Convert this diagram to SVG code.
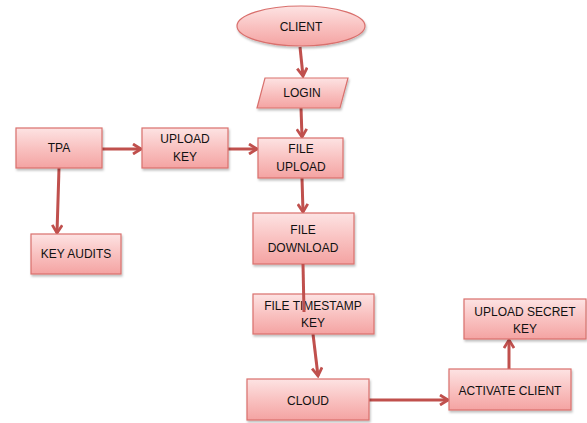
<svg xmlns="http://www.w3.org/2000/svg" width="587" height="423" viewBox="0 0 587 423">
<defs>
<linearGradient id="g" x1="0" y1="0" x2="0" y2="1">
<stop offset="0" stop-color="#fde3e3"/>
<stop offset="0.5" stop-color="#f9c2c1"/>
<stop offset="1" stop-color="#f4a3a2"/>
</linearGradient>
<filter id="sh" x="-10%" y="-10%" width="130%" height="140%">
<feDropShadow dx="1" dy="2" stdDeviation="1" flood-color="#000" flood-opacity="0.25"/>
</filter>
<marker id="ah" markerWidth="12" markerHeight="12" viewBox="0 0 12 12" refX="10" refY="6" orient="auto" markerUnits="userSpaceOnUse">
<polyline points="2,1 10,6 2,11" fill="none" stroke="#c0504d" stroke-width="2.8" stroke-linejoin="miter"/>
</marker>
</defs>
<style>
.n{fill:url(#g);stroke:#d9706d;stroke-width:1.2;filter:url(#sh)}
.t{font-family:"Liberation Sans",Arial,sans-serif;font-size:12px;fill:#111;text-anchor:middle;dominant-baseline:central}
.c{stroke:#c0504d;stroke-width:3;fill:none}
</style>
<rect width="587" height="423" fill="#fff"/>
<g id="connectors">
<line class="c" x1="300" y1="47" x2="303" y2="76" marker-end="url(#ah)"/>
<line class="c" x1="301" y1="108" x2="302" y2="137" marker-end="url(#ah)"/>
<line class="c" x1="102" y1="149" x2="141" y2="149" marker-end="url(#ah)"/>
<line class="c" x1="228" y1="149" x2="257" y2="149" marker-end="url(#ah)"/>
<line class="c" x1="59" y1="168" x2="57" y2="233" marker-end="url(#ah)"/>
<line class="c" x1="302" y1="178" x2="303" y2="212" marker-end="url(#ah)"/>
<line class="c" x1="313" y1="334" x2="318" y2="376" marker-end="url(#ah)"/>
<line class="c" x1="369" y1="400" x2="448" y2="400" marker-end="url(#ah)"/>
<line class="c" x1="509" y1="369" x2="509" y2="340" marker-end="url(#ah)"/>
</g>
<g id="client"><ellipse class="n" cx="301" cy="26" rx="64" ry="20"/><text class="t" x="301" y="27">CLIENT</text></g>
<g id="login"><polygon class="n" points="265,78 348,78 340,108 257,108"/><text class="t" x="302" y="93">LOGIN</text></g>
<g id="tpa"><rect class="n" x="16" y="128" width="86" height="40"/><text class="t" x="59" y="148">TPA</text></g>
<g id="uploadkey"><rect class="n" x="142" y="128" width="86" height="40"/><text class="t" x="185" y="139">UPLOAD</text><text class="t" x="185" y="157">KEY</text></g>
<g id="fileupload"><rect class="n" x="258" y="138" width="85" height="40"/><text class="t" x="301" y="149">FILE</text><text class="t" x="301" y="167">UPLOAD</text></g>
<g id="keyaudits"><rect class="n" x="31" y="234" width="90" height="40"/><text class="t" x="76" y="254">KEY AUDITS</text></g>
<g id="filedownload"><rect class="n" x="253" y="213" width="101" height="51"/><text class="t" x="303" y="230">FILE</text><text class="t" x="303" y="248">DOWNLOAD</text></g>
<g id="timestamp"><rect class="n" x="253" y="294" width="121" height="40"/><text class="t" x="313" y="306">FILE TIMESTAMP</text><text class="t" x="313" y="323">KEY</text></g>
<g id="cloud"><rect class="n" x="247" y="379" width="122" height="41"/><text class="t" x="308" y="401">CLOUD</text></g>
<g id="activate"><rect class="n" x="449" y="369" width="122" height="41"/><text class="t" x="510" y="391">ACTIVATE CLIENT</text></g>
<g id="uploadsecret"><rect class="n" x="464" y="299" width="122" height="40"/><text class="t" x="525" y="312">UPLOAD SECRET</text><text class="t" x="525" y="329">KEY</text></g>
<g id="overlay-connector"><line class="c" x1="303" y1="264" x2="304" y2="312"/></g>
</svg>
